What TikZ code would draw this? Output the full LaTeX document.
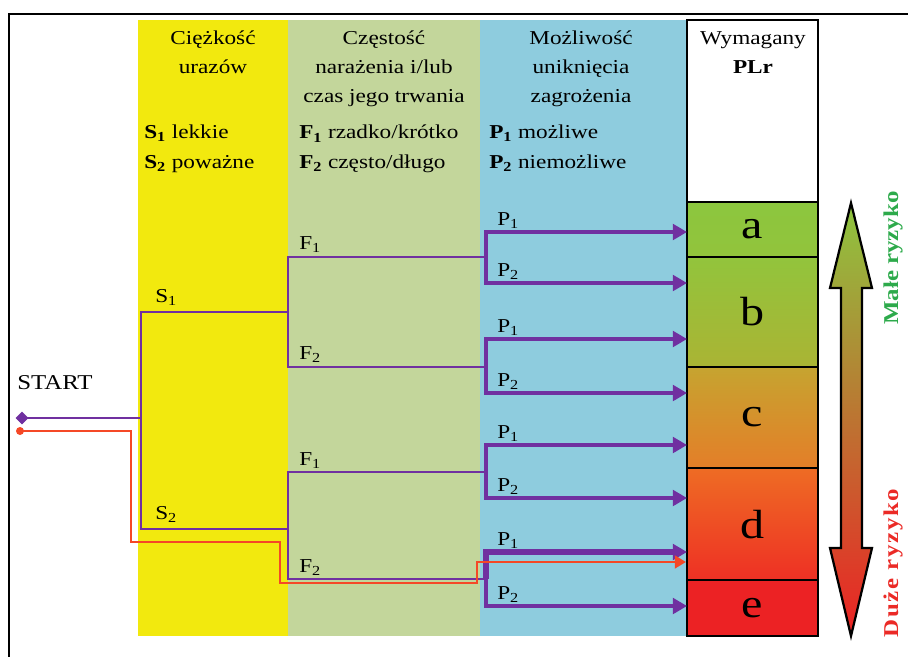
\documentclass[tikz,border=0pt]{standalone}
\usepackage{fontspec}
\setmainfont[FakeStretch=1.18]{Liberation Serif}
\usetikzlibrary{arrows.meta,positioning,calc}
\definecolor{sevYellow}{RGB}{242,233,14}
\definecolor{freqGreen}{RGB}{195,214,155}
\definecolor{avoidBlue}{RGB}{142,204,222}
\definecolor{treePurple}{RGB}{112,48,160}
\definecolor{pathRed}{RGB}{245,72,38}
\definecolor{riskGreen}{RGB}{141,198,63}
\definecolor{riskRed}{RGB}{236,34,36}
\definecolor{lowText}{RGB}{45,170,75}
\definecolor{highText}{RGB}{235,42,38}
\definecolor{boxAtop}{RGB}{140,198,62}
\definecolor{boxAbot}{RGB}{146,196,60}
\definecolor{boxBtop}{RGB}{146,196,60}
\definecolor{boxBbot}{RGB}{170,180,52}
\definecolor{boxCtop}{RGB}{198,164,48}
\definecolor{boxCbot}{RGB}{228,126,40}
\definecolor{boxDtop}{RGB}{238,108,36}
\definecolor{boxDbot}{RGB}{238,48,36}
\definecolor{boxE}{RGB}{236,34,36}
\tikzset{
  head text/.style={font=\fontsize{14}{20.6}\selectfont,align=center,inner sep=0pt,anchor=north},
  key text/.style={font=\fontsize{14}{21.3}\selectfont,align=left,inner sep=0pt,anchor=north west},
  branch label/.style={font=\fontsize{14}{17}\selectfont,inner sep=0pt,anchor=base west},
  tree line/.style={draw=treePurple,line width=2pt},
  tree arrow/.style={-{Triangle[length=10pt,width=11pt]},draw=treePurple,line width=2.6pt},
  red path/.style={-{Triangle[length=8pt,width=9pt]},draw=pathRed,line width=2.1pt},
  plr box/.style={draw=black,line width=1.8pt,inner sep=0pt,outer sep=0pt,minimum width=3.275cm,font=\fontsize{29}{29}\selectfont},
  risk label/.style={font=\fontsize{15}{15}\selectfont\bfseries,rotate=90,inner sep=0pt}
}
\begin{document}
\begin{tikzpicture}[x=0.025cm,y=-0.025cm]
  \useasboundingbox (0,0) rectangle (908,657);
  % frame and columns
  \draw[line width=2pt] (9,657) -- (9,14) -- (908,14);
  \fill[sevYellow] (138,20) rectangle (288,636);
  \fill[freqGreen] (288,20) rectangle (480,636);
  \fill[avoidBlue] (480,20) rectangle (687,636);

  % PLr column
  \node[plr box,anchor=north west,minimum height=1.375cm,top color=boxAtop,bottom color=boxAbot] (a) at (687,202) {a};
  \node[plr box,below=0pt of a,minimum height=2.75cm,top color=boxBtop,bottom color=boxBbot] (b) {b};
  \node[plr box,below=0pt of b,minimum height=2.525cm,top color=boxCtop,bottom color=boxCbot] (c) {c};
  \node[plr box,below=0pt of c,minimum height=2.8cm,top color=boxDtop,bottom color=boxDbot] (d) {d};
  \node[plr box,below=0pt of d,minimum height=1.4cm,fill=boxE] (e) {e};
  \node[plr box,above=0pt of a,minimum height=4.55cm,fill=white] (plrhead) {};

  % headers
  \node[head text] (sevhead) at (213,31) {Ciężkość\\urazów};
  \node[head text] (freqhead) at (384,31) {Częstość\\narażenia i/lub\\czas jego trwania};
  \node[head text] (avoidhead) at (581,31) {Możliwość\\uniknięcia\\zagrożenia};
  \node[head text] (plrtitle) at (753,31) {Wymagany\\\textbf{PLr}};
  \node[key text] (sevkey) at (144,125) {\textbf{S\textsubscript{1}} lekkie\\\textbf{S\textsubscript{2}} poważne};
  \node[key text] (freqkey) at (299,125) {\textbf{F\textsubscript{1}} rzadko/krótko\\\textbf{F\textsubscript{2}} często/długo};
  \node[key text] (avoidkey) at (489,125) {\textbf{P\textsubscript{1}} możliwe\\\textbf{P\textsubscript{2}} niemożliwe};
  \node[font=\fontsize{15}{17}\selectfont,inner sep=0pt] (startlbl) at (55,383) {START};

  % decision tree
  \coordinate (start) at (22,418);
  \coordinate (s) at (141,418);
  \coordinate (sa) at (288,312);
  \coordinate (sb) at (288,529);
  \draw[tree line] (start) -- (s);
  \draw[tree line] (s) |- (sa);
  \draw[tree line] (s) |- (sb);
  \node[branch label] (s1lbl) at (155,302) {S\textsubscript{1}};
  \node[branch label] (s2lbl) at (155,519) {S\textsubscript{2}};
  \foreach \fy/\pa/\pb/\up [count=\i] in {257/232/283/sa,367/339/393/sa,472/445/498/sb,579/552/606/sb}{
    \coordinate (j\i) at (486,\fy);
    \coordinate (ya\i) at (0,\pa);
    \coordinate (yb\i) at (0,\pb);
    \draw[tree line] (\up) |- (j\i);
    \draw[tree arrow] (j\i) |- (yb\i -| a.west);
    \node[branch label] (p1lbl\i) at (497,\pa-7) {P\textsubscript{1}};
    \node[branch label] (p2lbl\i) at (497,\pb-7) {P\textsubscript{2}};
  }
  \draw[tree arrow] (j1) |- (ya1 -| a.west);
  \draw[tree arrow] (j2) |- (ya2 -| a.west);
  \draw[tree arrow] (j3) |- (ya3 -| a.west);
  \draw[tree arrow,line width=3.6pt] (j4) |- (ya4 -| a.west);
  \node[branch label] (f1lbl) at (299,249) {F\textsubscript{1}};
  \node[branch label] (f2lbl) at (299,359) {F\textsubscript{2}};
  \node[branch label] (f3lbl) at (299,465) {F\textsubscript{1}};
  \node[branch label] (f4lbl) at (299,572) {F\textsubscript{2}};
  \filldraw[treePurple] (start) ++(-6,0) -- ++(6,-6) -- ++(6,6) -- ++(-6,6) -- cycle;

  % chosen path
  \coordinate (redstart) at (20,431);
  \coordinate (redend) at (686,562);
  \draw[red path] (redstart) -- (131,431) |- (280,542) |- (477,583) |- (redend);
  \fill[pathRed] (redstart) circle (4);

  % risk arrow
  \path[draw=black,line width=1.6pt,top color=riskGreen,bottom color=riskRed]
    (851,203) -- (872,288) -- (862,288) -- (862,548) -- (872,548) -- (851,636)
    -- (830,548) -- (841,548) -- (841,288) -- (830,288) -- cycle;
  \node[risk label,text=lowText] (lowrisk) at (893,258) {Małe ryzyko};
  \node[risk label,text=highText] (highrisk) at (893,563) {\addfontfeatures{LetterSpace=8}Duże ryzyko};
\end{tikzpicture}
\end{document}
